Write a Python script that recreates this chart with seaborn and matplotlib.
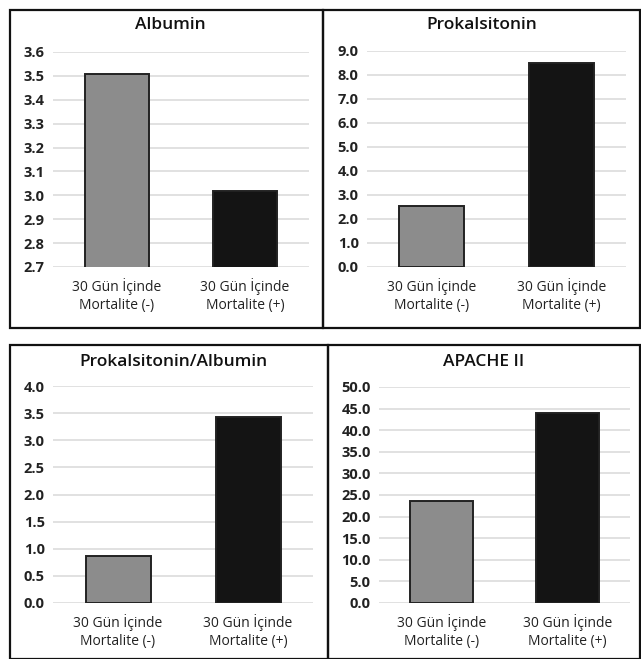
import matplotlib
matplotlib.use("Agg")
import matplotlib.pyplot as plt
import seaborn as sns
import pandas as pd
import numpy as np
from matplotlib.patches import Rectangle

groups = ["30 Gün İçinde\nMortalite (-)", "30 Gün İçinde\nMortalite (+)"]
titles = ["Albumin", "Prokalsitonin", "Prokalsitonin/Albumin", "APACHE II"]
albumin = [3.51, 3.02]
prokalsitonin = [2.55, 8.50]
pct_alb = [0.87, 3.42]
apache = [23.6, 44.0]
ylims = [(2.7, 3.6), (0.0, 9.0), (0.0, 4.0), (0.0, 50.0)]
ysteps = [0.1, 1.0, 0.5, 5.0]

sns.set_theme(style="white")
plt.rcParams['font.family'] = ['Open Sans', 'DejaVu Sans']

W, H = 641, 659
fig = plt.figure(figsize=(W / 100, H / 100), dpi=100)

# pixel boxes: (left, top, right, bottom)
axes_px = [(53, 52, 309, 267), (367, 51, 626, 267), (53, 386, 313, 603), (379, 387, 630, 603)]
borders_px = [(10, 10, 323, 328), (323, 10, 640, 328), (10, 345, 328, 659), (328, 345, 640, 659)]
title_y = [25, 25, 362, 362]

palette = {groups[0]: "#8c8c8c", groups[1]: "#141414"}
series = [albumin, prokalsitonin, pct_alb, apache]

for i in range(4):
    l, t, r, b = axes_px[i]
    ax = fig.add_axes([l / W, (H - b) / H, (r - l) / W, (b - t) / H])
    df = pd.DataFrame({"grup": groups, "deger": series[i]})
    lo, hi = ylims[i]
    sns.barplot(data=df, x="grup", y="deger", hue="grup", palette=palette,
                legend=False, width=0.5, edgecolor="#222222", linewidth=1.4,
                ax=ax, zorder=3)
    ax.set_ylim(lo, hi)
    ax.set_xlim(-0.5, 1.5)
    ticks = np.round(np.arange(lo, hi + ysteps[i] / 2, ysteps[i]), 2)
    ax.set_yticks(ticks)
    ax.set_yticklabels([f"{v:.1f}" for v in ticks], fontsize=10.5, fontweight="bold", color="#222222")
    ax.set_xticks([0, 1])
    ax.set_xticklabels(groups, fontsize=10, color="#222222", linespacing=1.3)
    ax.tick_params(axis="y", length=0, pad=6)
    ax.tick_params(axis="x", length=0, pad=8)
    ax.set_xlabel("")
    ax.set_ylabel("")
    ax.grid(axis="y", color="#dcdcdc", linewidth=1.2, zorder=0)
    ax.set_axisbelow(True)
    for s in ax.spines.values():
        s.set_visible(False)
    bl, bt, br, bb = borders_px[i]
    fig.patches.append(Rectangle((bl / W, (H - bb) / H), (br - bl) / W, (bb - bt) / H,
                                 transform=fig.transFigure, fill=False,
                                 edgecolor="#111111", linewidth=1.6, zorder=10))
    fig.text(((bl + br) / 2 + (4 if i in (0, 2) else 0)) / W, 1 - title_y[i] / H, titles[i],
             ha="center", va="center", fontsize=12.5, fontweight="semibold", color="#111111")

fig.savefig("out.png", dpi=100)
